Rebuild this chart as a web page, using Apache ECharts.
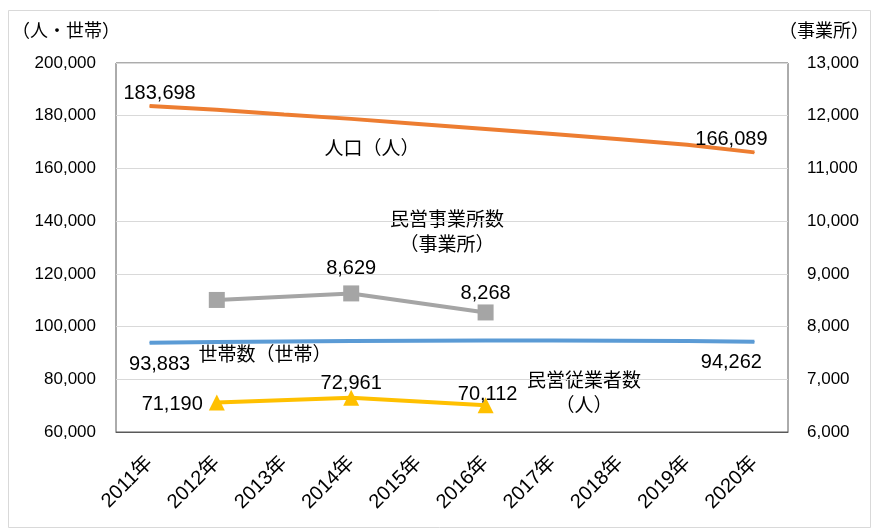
<!DOCTYPE html>
<html>
<head>
<meta charset="utf-8">
<script src="https://cdn.jsdelivr.net/npm/echarts@6/dist/echarts.min.js"></script>
<style>
  html, body { margin: 0; padding: 0; background: #fff; }
  #main { width: 872px; height: 529px; }
</style>
</head>
<body>
<div id="main"></div>
<script>
// 年次
const years = ['2011年', '2012年', '2013年', '2014年', '2015年', '2016年', '2017年', '2018年', '2019年', '2020年']
// 人口（人）
const population = [183698, 182300, 180500, 178800, 176900, 175000, 173100, 171100, 169000, 166089]
// 世帯数（世帯）
const households = [93883, 94100, 94300, 94500, 94600, 94700, 94700, 94600, 94500, 94262]
// 民営事業所数（事業所）- 右軸
const establishments = [null, 8505, null, 8629, null, 8268, null, null, null, null]
// 民営従業者数（人）
const employees = [null, 71190, null, 72961, null, 70112, null, null, null, null]

const leftTicks = { min: 60000, max: 200000, interval: 20000 }
const rightTicks = { min: 6000, max: 13000, interval: 1000 }

const FONT = "'Liberation Sans', 'Noto Sans CJK JP', sans-serif"
const fmt = v => v.toLocaleString('en-US')

// データラベルの位置（表示する点だけ）
function withLabels (values, labelMap) {
  return values.map((v, i) => {
    const lab = labelMap[i]
    if (!lab || v == null) return v
    return {
      value: v,
      label: {
        show: true,
        position: lab.pos,
        offset: lab.off,
        formatter: p => fmt(p.value),
        color: '#000',
        fontSize: 20,
        fontFamily: FONT
      }
    }
  })
}

const myChart = echarts.init(document.getElementById('main'))
const option = {
  backgroundColor: '#fff',
  animation: false,
  grid: {
    left: 116,
    right: 84,
    top: 63,
    bottom: 97,
    show: true,
    borderColor: '#595959',
    borderWidth: 1
  },
  xAxis: {
    type: 'category',
    data: years,
    boundaryGap: true,
    axisLine: { show: true, lineStyle: { color: '#595959' } },
    axisTick: { show: false },
    axisLabel: {
      rotate: 45,
      color: '#000',
      fontSize: 20,
      fontFamily: FONT,
      margin: 28
    }
  },
  yAxis: [
    {
      type: 'value',
      min: leftTicks.min,
      max: leftTicks.max,
      interval: leftTicks.interval,
      name: '（人・世帯）',
      nameLocation: 'end',
      nameGap: 22,
      nameTextStyle: { color: '#000', fontSize: 18, fontFamily: FONT, align: 'center', padding: [0, 0, 0, -100] },
      axisLine: { show: false },
      axisTick: { show: false },
      splitLine: { lineStyle: { color: '#d9d9d9' } },
      axisLabel: { color: '#000', fontSize: 17, fontFamily: FONT, margin: 20, formatter: fmt }
    },
    {
      type: 'value',
      min: rightTicks.min,
      max: rightTicks.max,
      interval: rightTicks.interval,
      name: '（事業所）',
      nameLocation: 'end',
      nameGap: 22,
      nameTextStyle: { color: '#000', fontSize: 18, fontFamily: FONT, align: 'center', padding: [0, 0, 0, 72] },
      axisLine: { show: false },
      axisTick: { show: false },
      splitLine: { show: false },
      axisLabel: { color: '#000', fontSize: 17, fontFamily: FONT, margin: 19, formatter: fmt }
    }
  ],
  series: [
    {
      name: '人口（人）',
      type: 'line',
      yAxisIndex: 0,
      data: withLabels(population, {
        0: { pos: 'top', off: [10, 3] },
        9: { pos: 'top', off: [-23, 3] }
      }),
      symbol: 'circle',
      symbolSize: 1,
      showAllSymbol: true,
      lineStyle: { color: '#ED7D31', width: 4 },
      itemStyle: { color: '#ED7D31' },
      z: 3
    },
    {
      name: '世帯数（世帯）',
      type: 'line',
      yAxisIndex: 0,
      data: withLabels(households, {
        0: { pos: 'bottom', off: [10, 6] },
        9: { pos: 'bottom', off: [-23, 5] }
      }),
      symbol: 'circle',
      symbolSize: 1,
      showAllSymbol: true,
      lineStyle: { color: '#5B9BD5', width: 4 },
      itemStyle: { color: '#5B9BD5' },
      z: 3
    },
    {
      name: '民営事業所数（事業所）',
      type: 'line',
      yAxisIndex: 1,
      connectNulls: true,
      data: withLabels(establishments, {
        3: { pos: 'top', off: [0, -2] },
        5: { pos: 'top', off: [0, 4] }
      }),
      symbol: 'rect',
      symbolSize: 16,
      showAllSymbol: true,
      lineStyle: { color: '#A5A5A5', width: 4 },
      itemStyle: { color: '#A5A5A5' },
      z: 4
    },
    {
      name: '民営従業者数（人）',
      type: 'line',
      yAxisIndex: 0,
      connectNulls: true,
      data: withLabels(employees, {
        1: { pos: 'left', off: [-1, 2] },
        3: { pos: 'top', off: [0, 9] },
        5: { pos: 'top', off: [2, 12] }
      }),
      symbol: 'triangle',
      symbolSize: 16,
      showAllSymbol: true,
      lineStyle: { color: '#FFC000', width: 4 },
      itemStyle: { color: '#FFC000' },
      z: 4
    }
  ],
  graphic: [
    {
      type: 'rect',
      shape: { x: 8.5, y: 10.5, width: 862, height: 517 },
      style: { fill: 'none', stroke: '#d9d9d9', lineWidth: 1 },
      silent: true,
      z: -10
    },
    { type: 'text', x: 372, y: 150, style: { text: '人口（人）', fontSize: 19, fontFamily: FONT, fill: '#000', align: 'center', verticalAlign: 'middle' } },
    { type: 'text', x: 447, y: 233, style: { text: '民営事業所数\n（事業所）', fontSize: 19, lineHeight: 25, fontFamily: FONT, fill: '#000', align: 'center', verticalAlign: 'middle' } },
    { type: 'text', x: 265, y: 356, style: { text: '世帯数（世帯）', fontSize: 19, fontFamily: FONT, fill: '#000', align: 'center', verticalAlign: 'middle' } },
    { type: 'text', x: 584, y: 394, style: { text: '民営従業者数\n（人）', fontSize: 19, lineHeight: 25, fontFamily: FONT, fill: '#000', align: 'center', verticalAlign: 'middle' } }
  ]
}
myChart.setOption(option)
</script>
</body>
</html>
